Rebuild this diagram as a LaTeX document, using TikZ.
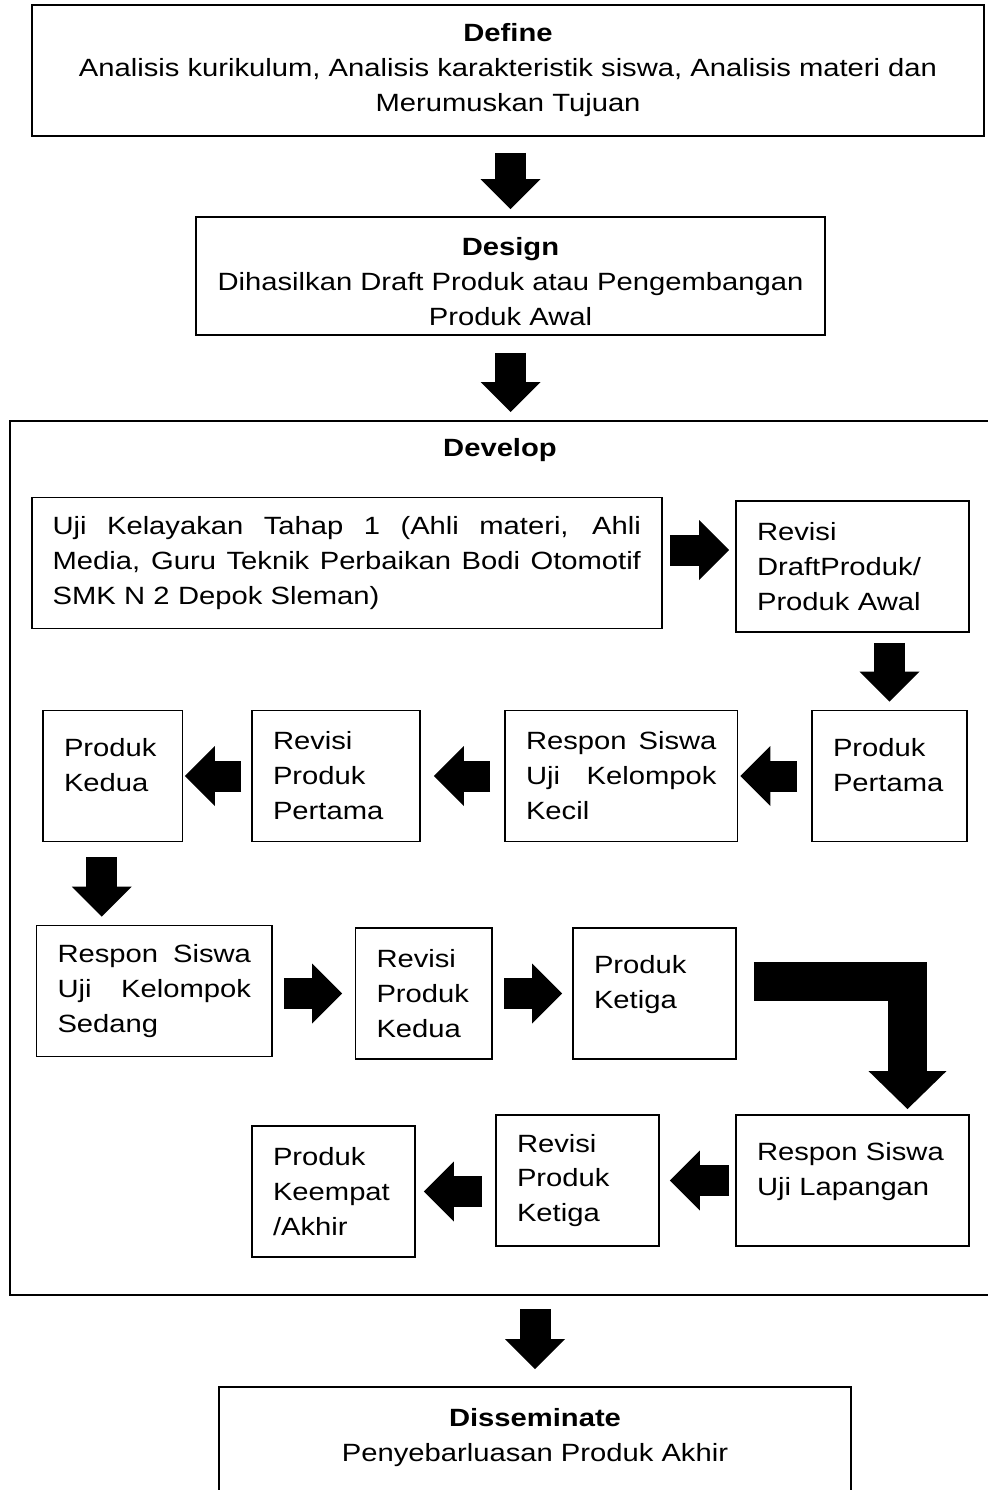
\documentclass[tikz,border=0pt]{standalone}
\usepackage{fontspec}
\setmainfont{Liberation Sans}[FakeStretch=1.17]
\usetikzlibrary{arrows.meta,calc,positioning}

\newcommand{\justline}[1]{{\spaceskip=\fontdimen2\font plus 1filll\relax #1}}
\newcommand{\padline}{\\[-0.25cm]\mbox{}}

\begin{document}
\begin{tikzpicture}[x=0.02cm,y=-0.02cm,
  font=\fontsize{14.2pt}{19.9pt}\selectfont,
  stage/.style={draw,line width=1.1pt,align=center,inner sep=0pt},
  box/.style={draw,line width=1.1pt,align=left,inner xsep=0.42cm,inner ysep=0pt,
    minimum height=2.62cm,text width=#1},
  fat/.style={line width=0.62cm,-{Triangle[length=0.6cm,width=1.2cm,line width=0pt]}},
  bigfat/.style={line width=0.78cm,line join=miter,
    -{Triangle[length=0.76cm,width=1.56cm,line width=0pt]}}]
  \useasboundingbox (0,0) rectangle (987,1490);

  % outer stages
  \node[stage,minimum width=19.04cm,minimum height=2.62cm] (define) at (508,70.5)
    {\textbf{Define}\\Analisis kurikulum, Analisis karakteristik siswa, Analisis materi dan\\Merumuskan Tujuan};
  \node[stage,minimum width=12.58cm,minimum height=2.36cm] (design) at (510.5,276)
    {\rule{0pt}{0.6cm}\textbf{Design}\\Dihasilkan Draft Produk atau Pengembangan\\Produk Awal};
  \node[stage,anchor=north,minimum width=12.64cm,minimum height=3cm] (dissem) at (535,1386)
    {\textbf{Disseminate}\\Penyebarluasan Produk Akhir\\[0.38cm]\mbox{}};

  % develop frame
  \draw[line width=1.1pt] (995,421) -| (10,1295) -- (995,1295);
  \coordinate (devtop) at (510,421);
  \coordinate (devbot) at (535,1295);
  \node (develop) at (500,450) {\textbf{Develop}};

  % develop steps
  \node[box=11.77cm] (uji) at (346.75,563)
    {\justline{Uji Kelayakan Tahap 1 (Ahli materi, Ahli}\\\justline{Media, Guru Teknik Perbaikan Bodi Otomotif}\\SMK N 2 Depok Sleman)};
  \node[box=3.82cm] (draft) at (852.5,566.5) {Revisi\\DraftProduk/\\Produk Awal};
  \node[box=2.26cm] (pertama) at (889.5,776) {Produk\\Pertama\padline};
  \node[box=3.81cm] (kecil) at (621.25,776)
    {\justline{Respon Siswa}\\\justline{Uji Kelompok}\\Kecil};
  \node[box=2.52cm] (revisi1) at (336,776) {Revisi\\Produk\\Pertama};
  \node[box=1.95cm] (kedua) at (112.75,776) {Produk\\Kedua\padline};
  \node[box=3.87cm] (sedang) at (154.25,991)
    {\justline{Respon Siswa}\\\justline{Uji Kelompok}\\Sedang};
  \node[box=1.89cm] (revisi2) at (423.75,993.5) {Revisi\\Produk\\Kedua};
  \node[box=2.42cm] (ketiga) at (654.5,993.5) {Produk\\Ketiga\padline};
  \node[box=3.82cm] (lapangan) at (852.5,1180.5) {Respon Siswa\\Uji Lapangan\padline};
  \node[box=2.42cm] (revisi3) at (577.5,1180.5) {Revisi\\Produk\\Ketiga};
  \node[box=2.42cm] (keempat) at (333.5,1191.5) {Produk\\Keempat\\/Akhir};

  % block arrows
  \draw[fat,shorten <=0.32cm,shorten >=0.14cm] (define.south -| design.north) -- (design.north);
  \draw[fat,shorten <=0.34cm,shorten >=0.18cm] (design.south) -- (design.south |- devtop);
  \draw[fat,shorten <=0.14cm,shorten >=0.12cm] ([yshift=0.26cm]uji.east) -- ([yshift=0.26cm]uji.east -| draft.west);
  \draw[fat,shorten <=0.2cm,shorten >=0.16cm] (draft.south -| pertama.north) -- (pertama.north);
  \draw[fat,shorten <=0.28cm,shorten >=0.04cm] (pertama.west) -- (kecil.east);
  \draw[fat,shorten <=0.28cm,shorten >=0.26cm] (kecil.west) -- (revisi1.east);
  \draw[fat,shorten <=0.2cm,shorten >=0.03cm] (revisi1.west) -- (kedua.east);
  \draw[fat,shorten <=0.3cm,shorten >=0.16cm] ([xshift=-0.22cm]kedua.south) -- ([xshift=-0.22cm]kedua.south |- sedang.north);
  \draw[fat,shorten <=0.22cm,shorten >=0.25cm] (sedang.east |- revisi2.west) -- (revisi2.west);
  \draw[fat,shorten <=0.23cm,shorten >=0.2cm] (revisi2.east) -- (ketiga.west);
  \draw[bigfat,shorten <=0.34cm,shorten >=0.1cm] ([yshift=0.25cm]ketiga.east) -| ([xshift=1.1cm]lapangan.north);
  \draw[fat,shorten <=0.12cm,shorten >=0.2cm] (lapangan.west) -- (revisi3.east);
  \draw[fat,shorten <=0.26cm,shorten >=0.16cm] (revisi3.west |- keempat.east) -- (keempat.east);
  \draw[fat,shorten <=0.28cm,shorten >=0.34cm] (devbot) -- (dissem.north);
\end{tikzpicture}
\end{document}
